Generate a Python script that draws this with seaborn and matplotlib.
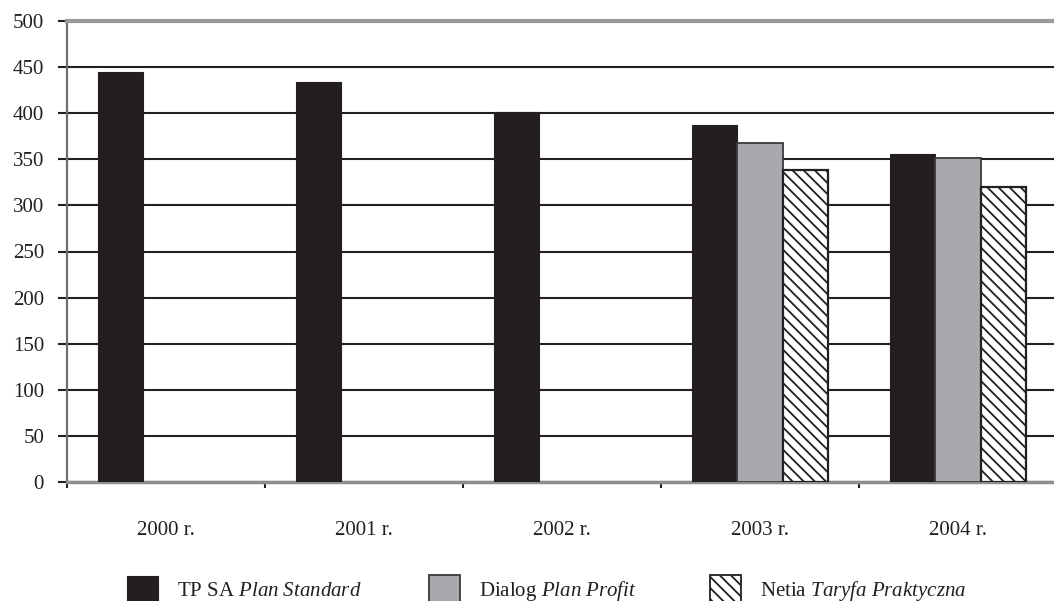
import numpy as np
import pandas as pd
import matplotlib
matplotlib.use("Agg")
import matplotlib.pyplot as plt
from matplotlib.patches import Patch
from matplotlib.ticker import FixedLocator
import seaborn as sns

# Monthly cost by year and operator plan
years = ["2000 r.", "2001 r.", "2002 r.", "2003 r.", "2004 r."]
plans = ["TP SA", "Dialog", "Netia"]
tpsa_values = [445, 434, 401, 387, 356]
dialog_values = [np.nan, np.nan, np.nan, 368, 351]
netia_values = [np.nan, np.nan, np.nan, 338, 320]
legend_labels = [
    r"TP SA $\mathit{Plan\ Standard}$",
    r"Dialog $\mathit{Plan\ Profit}$",
    r"Netia $\mathit{Taryfa\ Praktyczna}$",
]

df = pd.DataFrame({
    "year": years * 3,
    "plan": [p for p in plans for _ in years],
    "value": tpsa_values + dialog_values + netia_values,
}).dropna()

sns.set_theme(style="white")
plt.rcParams["font.family"] = ["Liberation Serif", "DejaVu Serif"]
plt.rcParams["mathtext.fontset"] = "custom"
plt.rcParams["mathtext.rm"] = "Liberation Serif"
plt.rcParams["mathtext.it"] = "Liberation Serif:italic"
plt.rcParams["hatch.linewidth"] = 1.3

BLACK = "#231f20"
GREY = "#a7a9ac"
HATCH = "\\\\\\"
palette = {"TP SA": BLACK, "Dialog": GREY, "Netia": "white"}

fig = plt.figure(figsize=(10.54, 6.01), dpi=100)
ax = fig.add_axes([67 / 1054, (601 - 482) / 601, 990 / 1054, 461 / 601])

sns.barplot(data=df, x="year", y="value", hue="plan", order=years,
            hue_order=plans, palette=palette, width=0.685, saturation=1,
            dodge=True, legend=False, ax=ax, zorder=3)

for bar in ax.containers[0]:
    bar.set_edgecolor(BLACK)
    bar.set_linewidth(0.8)
for bar in ax.containers[1]:
    bar.set_edgecolor("#3a3a3a")
    bar.set_linewidth(1.3)
for bar in ax.containers[2]:
    bar.set_facecolor("white")
    bar.set_edgecolor(BLACK)
    bar.set_hatch(HATCH)
    bar.set_linewidth(1.6)

ax.set_xlim(-0.5, 4.5)
ax.set_ylim(0, 500)
ax.set_yticks(range(0, 501, 50))
ax.set_xlabel("")
ax.set_ylabel("")

ax.set_axisbelow(True)
ax.yaxis.grid(True, color=BLACK, linewidth=1.5)
ax.xaxis.grid(False)

ax.spines["right"].set_visible(False)
ax.spines["top"].set_color("#9a9a9a")
ax.spines["top"].set_linewidth(3)
ax.spines["bottom"].set_color("#8e8e8e")
ax.spines["bottom"].set_linewidth(2.5)
ax.spines["left"].set_color("#6e6e6e")
ax.spines["left"].set_linewidth(1.6)

ax.tick_params(axis="y", direction="out", length=6.5, width=1.5,
               color=BLACK, pad=10, labelsize=15, labelcolor=BLACK, left=True)
ax.tick_params(axis="x", which="major", length=0, pad=28, labelsize=15,
               labelcolor=BLACK)
ax.xaxis.set_minor_locator(FixedLocator([-0.5, 0.5, 1.5, 2.5, 3.5]))
ax.tick_params(axis="x", which="minor", direction="out", length=4.5,
               width=1.5, color=BLACK, bottom=True)

# Legend: one entry per column, spread along the bottom
handles = [
    Patch(facecolor=BLACK, edgecolor=BLACK, linewidth=0.8),
    Patch(facecolor=GREY, edgecolor="#3a3a3a", linewidth=1.3),
    Patch(facecolor="white", edgecolor=BLACK, hatch=HATCH, linewidth=1.3),
]
legend_x = [127, 429, 710]
for h, lab, x in zip(handles, legend_labels, legend_x):
    leg = fig.legend(handles=[h], labels=[lab], loc="center left",
                     bbox_to_anchor=(x / 1054, 1 - 589 / 601),
                     frameon=False, borderpad=0, borderaxespad=0,
                     handlelength=1.5, handleheight=1.6, handletextpad=0.9,
                     fontsize=15)
    for t in leg.get_texts():
        t.set_color(BLACK)

fig.savefig("out.png", dpi=100, facecolor="white")
